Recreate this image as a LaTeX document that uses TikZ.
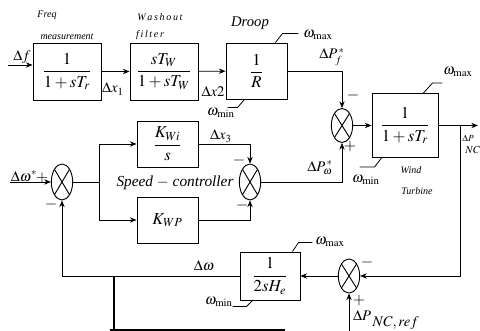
\documentclass[tikz,border=0pt]{standalone}
\usepackage{amsmath}
\usepackage{mathptmx}
\usepackage[no-math]{fontspec}
\setmainfont{Liberation Serif}
\usetikzlibrary{arrows.meta, positioning, shapes.geometric}

\begin{document}
\begin{tikzpicture}[
  x=0.75pt, y=-0.75pt,
  font=\fontsize{11}{13}\selectfont,
  >={Stealth[length=5pt, width=4pt]},
  line width=0.6pt,
  blk/.style={draw, line width=0.7pt, inner sep=0pt, align=center, font=\fontsize{12.5}{14}\selectfont},
  sumj/.style={draw, ellipse, line width=0.7pt, minimum width=16pt, minimum height=25.5pt, inner sep=0pt,
    path picture={\draw (path picture bounding box.north west) -- (path picture bounding box.south east)
      (path picture bounding box.north east) -- (path picture bounding box.south west);}},
  tag/.style={inner sep=0pt, font=\fontsize{7.5}{9}\selectfont\itshape},
  sgn/.style={inner sep=0pt, font=\fontsize{12}{12}\selectfont},
  lim/.style={inner sep=0pt},
]
  \useasboundingbox (0,0) rectangle (480,331);

  \node[blk, minimum width=51pt, minimum height=42.75pt] (freq) at (67,71.5) {$\dfrac{1}{1+sT_r}$};
  \node[blk, minimum width=51pt, minimum height=42.75pt] (wash) at (164,71.5) {$\dfrac{sT_W}{1+sT_W}$};
  \node[blk, minimum width=45.75pt, minimum height=42pt] (droop) at (256.5,71) {$\dfrac{1}{R}$};
  \node[blk, minimum width=49.5pt, minimum height=48pt] (wt) at (405,125.5) {$\dfrac{1}{1+sT_r}$};
  \node[blk, minimum width=45.75pt, minimum height=34.5pt] (kwi) at (167.5,144) {$\dfrac{K_{Wi}}{s}$};
  \node[blk, minimum width=45.75pt, minimum height=34.5pt] (kwp) at (167.5,220) {$K_{WP}$};
  \node[blk, minimum width=45pt, minimum height=36pt] (hsys) at (270,276) {$\dfrac{1}{2sH_e}$};

  \node[sumj] (s1) at (342,125.5) {};
  \node[sumj, minimum height=27pt] (s2) at (250,182) {};
  \node[sumj, minimum height=27pt] (s3) at (62,182) {};
  \node[sumj] (s4) at (349,276) {};

  \coordinate (fin) at (8,65);
  \coordinate (win) at (10,182);
  \coordinate (split) at (99,182);
  \coordinate (tap) at (460,125.5);
  \coordinate (pout) at (478,125.5);
  \coordinate (pref) at (349,331);
  \coordinate (wtap) at (114,276);
  \coordinate (wfoot) at (114,331);
  \coordinate (barl) at (110,330);
  \coordinate (barr) at (285,330);

  \draw[->] (fin) -- (fin -| freq.west);
  \draw[->] (freq) -- (wash);
  \draw[->] (wash) -- (droop);
  \draw[->] (droop.east) -| (s1.north);
  \draw[->] (s1) -- (wt);
  \draw[->] (wt.east) -- (pout);
  \draw[->] (tap) |- (s4.east);
  \draw[->] (s4) -- (hsys);
  \draw[->] (pref) -- (s4.south);
  \draw[->] (hsys.west) -| (s3.south);
  \draw[->] (win) -- (s3.west);
  \draw (s3.east) -- (split);
  \draw[->] (split) |- (kwi.west);
  \draw[->] (split) |- (kwp.west);
  \draw[->] (kwi.east) -| (s2.north);
  \draw[->] (kwp.east) -| (s2.south);
  \draw[->] (s2.east) -| (s1.south);
  \draw[line width=1.1pt] (wtap) -- (wfoot);
  \draw[line width=1.1pt] (barl) -- (barr);

  \draw (droop.north east) ++(-12,0) -- ++(7,-9) -- ++(16,0);
  \draw (droop.south west) ++(19,0) -- ++(-7,8) -- ++(-10,0);
  \draw (wt.north east) ++(-15,0) -- ++(9,-10) -- ++(10,0);
  \draw (wt.south west) ++(10,0) -- ++(-7,9) -- ++(-15,0);
  \draw (hsys.north east) ++(-8,0) -- ++(6,-9) -- ++(14,0);
  \draw (hsys.south west) ++(13,0) -- ++(-6,6) -- ++(-14,0);

  \node[lim] (dmax) at (318,35) {$\omega_{\mathrm{max}}$};
  \node[lim] (dmin) at (221,113) {$\omega_{\mathrm{min}}$};
  \node[lim] (tmax) at (458,72) {$\omega_{\mathrm{max}}$};
  \node[lim] (tmin) at (366,180) {$\omega_{\mathrm{min}}$};
  \node[lim] (hmax) at (330,242) {$\omega_{\mathrm{max}}$};
  \node[lim] (hmin) at (219,302) {$\omega_{\mathrm{min}}$};

  \node[tag] (fq1) at (47,15) {Freq};
  \node[tag] (fq2) at (67,37) {measurement};
  \node[tag] (wo1) at (160,17) {W\,a\,s\,h\,o\,u\,t};
  \node[tag] (wo2) at (150,35) {f\,i\,l\,t\,e\,r};
  \node[inner sep=0pt, font=\fontsize{11}{13}\selectfont\itshape] (drt) at (250,23) {Droop};
  \node[inner sep=0pt, font=\fontsize{11.5}{13}\selectfont\itshape] (spc) at (175,183) {Speed $-$ controller};
  \node[tag] (wd1) at (411,170) {Wind};
  \node[tag] (wd2) at (417,191) {Turbine};

  \node[lim] (df) at (22,57) {$\Delta f$};
  \node[lim] (dx1) at (113,89) {$\Delta x_1$};
  \node[lim] (dx2) at (213,92) {$\Delta x2$};
  \node[lim] (dx3) at (221,136) {$\Delta x_3$};
  \node[lim] (dpf) at (332,57) {$\Delta P_f^{\,*}$};
  \node[lim] (dpw) at (320,168) {$\Delta P_{\omega}^{\,*}$};
  \node[lim] (dws) at (24,176) {$\Delta\omega^{*}$};
  \node[lim] (dw) at (204,266) {$\Delta\omega$};
  \node[lim] (dpref) at (386,320) {$\Delta P\,$\raisebox{-4pt}{$NC,ref$}};
  \node[lim, anchor=west, font=\fontsize{7}{8}\selectfont] (dpnc) at (462,138) {$\Delta P$};
  \node[lim, anchor=north west, font=\fontsize{8}{9}\selectfont] (dpnc2) at (465,146) {$NC$};

  \node[sgn] (m1) at (353,96) {$-$};
  \node[sgn] (p1) at (350,147) {$+$};
  \node[sgn] (m2) at (239,161) {$-$};
  \node[sgn] (m3) at (242,206) {$-$};
  \node[sgn] (pm) at (42,180) {$\pm$};
  \node[sgn] (m4) at (51,205) {$-$};
  \node[sgn] (m5) at (367,263) {$-$};
  \node[sgn] (p5) at (359,301) {$+$};
\end{tikzpicture}
\end{document}
